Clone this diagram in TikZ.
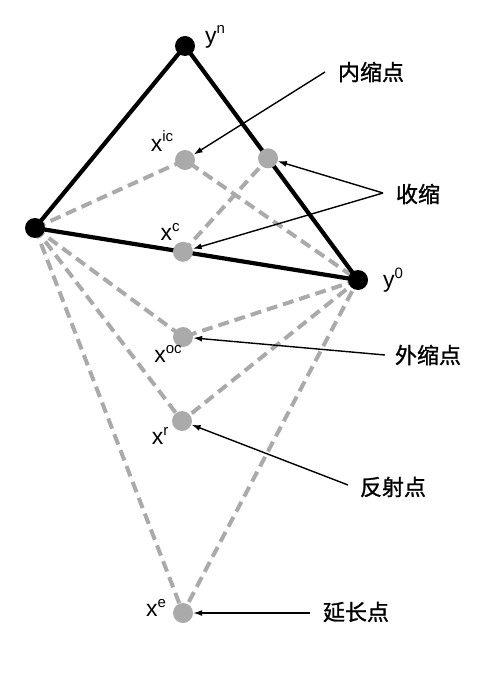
\documentclass[tikz,border=0pt]{standalone}
\usepackage{fontspec}
\setmainfont{Liberation Sans}
\newfontfamily\cjk[FakeBold=1.2]{Noto Sans CJK SC}
\usetikzlibrary{arrows.meta,calc}
\definecolor{dotgray}{RGB}{170,170,170}
\newcommand{\lab}[2]{x\raisebox{0.42em}{\fontsize{15}{15}\selectfont #2}}
\begin{document}
\begin{tikzpicture}[x=1pt,y=-1pt,
  blackdot/.style={circle,fill=black,inner sep=0pt,minimum size=20pt},
  graydot/.style={circle,fill=dotgray,inner sep=0pt,minimum size=20pt},
  edge/.style={line width=4.2pt,black},
  dashedge/.style={line width=4pt,dotgray,dash pattern=on 11pt off 6pt},
  pointer/.style={line width=1.4pt,black,-{Latex[length=9pt,width=6pt]}},
  latin/.style={font=\fontsize{23}{26}\selectfont,inner sep=0pt},
  chinese/.style={font=\cjk\fontsize{22}{24}\selectfont,inner sep=0pt}]
\useasboundingbox (0,0) rectangle (486,676);
% vertices
\coordinate (YN) at (185,46);
\coordinate (L) at (35,228);
\coordinate (Y0) at (358,280);
\coordinate (XIC) at (185,160);
\coordinate (XC) at ($(L)!0.458!(Y0)$);
\coordinate (S) at ($(YN)!0.48!(Y0)$);
\coordinate (XOC) at (183,337);
\coordinate (XR) at (182,421);
\coordinate (XE) at (183,613);
% dashed lines
\draw[dashedge] (L) -- (XIC) -- (Y0);
\draw[dashedge] (XC) -- (S);
\draw[dashedge] (L) -- (XOC) -- (Y0);
\draw[dashedge] (L) -- (XR) -- (Y0);
\draw[dashedge] (L) -- (XE) -- (Y0);
% solid triangle
\draw[edge,line join=round] (YN) -- (L) -- (Y0) -- cycle;
% dots
\node[blackdot] (yn) at (YN) {};
\node[blackdot] (l) at (L) {};
\node[blackdot] (y0) at (Y0) {};
\node[graydot] (xic) at (XIC) {};
\node[graydot] (xc) at (XC) {};
\node[graydot] (s) at (S) {};
\node[graydot] (xoc) at (XOC) {};
\node[graydot] (xr) at (XR) {};
\node[graydot] (xe) at (XE) {};
% point labels
\node[latin] (lyn) at (215,37) {y\raisebox{0.42em}{\fontsize{15}{15}\selectfont n}};
\node[latin] (ly0) at (393,280) {y\raisebox{0.42em}{\fontsize{15}{15}\selectfont 0}};
\node[latin] (lxic) at (162,141) {\lab{}{ic}};
\node[latin] (lxc) at (170,232) {\lab{}{c}};
\node[latin] (lxoc) at (168,354) {\lab{}{oc}};
\node[latin] (lxr) at (160,436) {\lab{}{r}};
\node[latin] (lxe) at (156,608) {\lab{}{e}};
% chinese labels
\node[chinese] (tin) at (371,72) {内缩点};
\node[chinese] (tsh) at (418,194) {收缩};
\node[chinese] (tout) at (428,355) {外缩点};
\node[chinese] (tref) at (393,487) {反射点};
\node[chinese] (text) at (356,612) {延长点};
% pointer origins
\coordinate (pin) at (325,72);
\coordinate (psh) at (383,193);
\coordinate (pout) at (385,355);
\coordinate (pref) at (348,485);
\coordinate (pext) at (310,613);
% pointers
\draw[pointer] (pin) -- (xic);
\draw[pointer] (psh) -- (s);
\draw[pointer] (psh) -- (xc);
\draw[pointer] (pout) -- (xoc);
\draw[pointer] (pref) -- (xr);
\draw[pointer] (pext) -- (xe);
\end{tikzpicture}
\end{document}
